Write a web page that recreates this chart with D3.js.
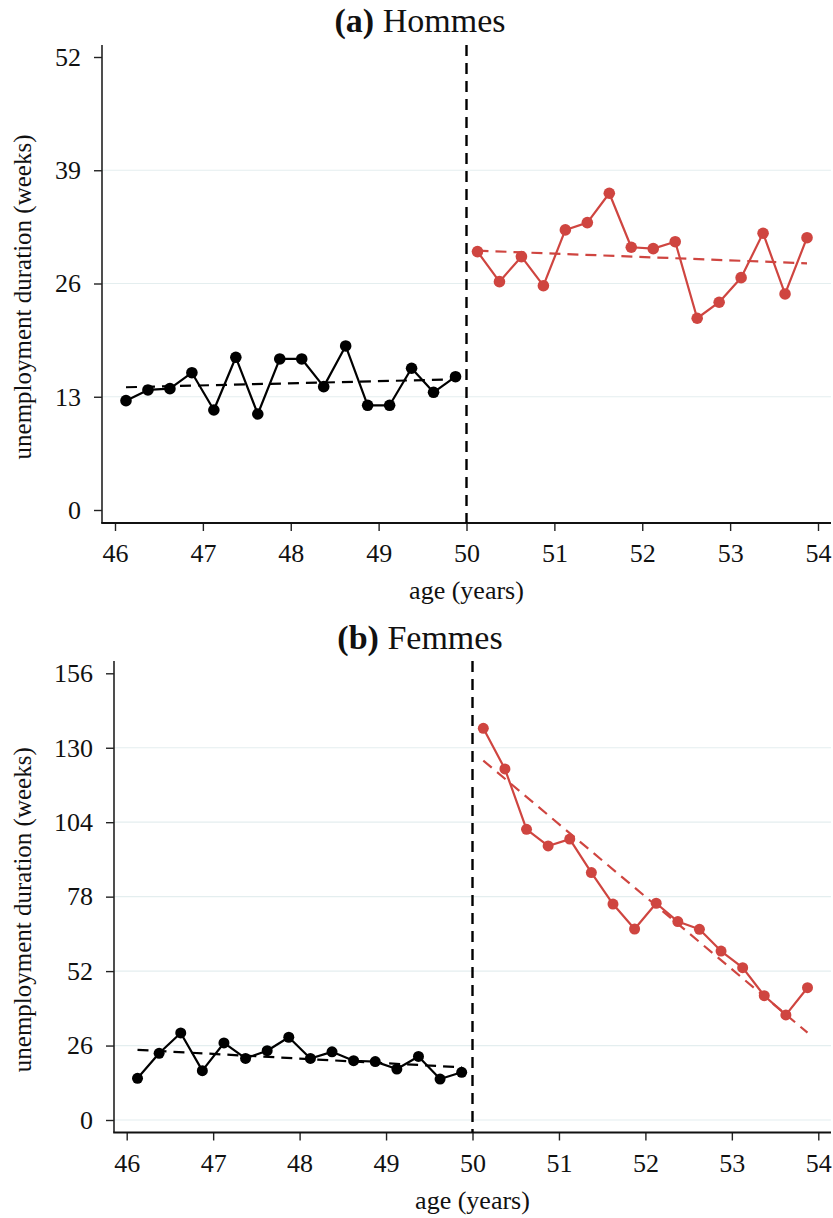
<!DOCTYPE html>
<html>
<head>
<meta charset="utf-8">
<script src="https://cdn.jsdelivr.net/npm/d3@7/dist/d3.min.js"></script>
<style>
  body { margin: 0; background: #ffffff; }
  svg { display: block; }
  text { font-family: "Liberation Serif", "Times New Roman", serif; fill: #111; }
</style>
</head>
<body>
<svg id="chart" width="833" height="1218"></svg>
<script>
// Age bins (quarter-year midpoints) on each side of the age-50 threshold
const ageBelow = [46.125, 46.375, 46.625, 46.875, 47.125, 47.375, 47.625, 47.875,
                  48.125, 48.375, 48.625, 48.875, 49.125, 49.375, 49.625, 49.875];
const ageAbove = [50.125, 50.375, 50.625, 50.875, 51.125, 51.375, 51.625, 51.875,
                  52.125, 52.375, 52.625, 52.875, 53.125, 53.375, 53.625, 53.875];

// Mean unemployment duration (weeks), men
const menBelow = [12.55, 13.78, 13.93, 15.76, 11.48, 17.53, 11.02, 17.34,
                  17.34, 14.16, 18.83, 12.02, 12.02, 16.27, 13.51, 15.30];
const menAbove = [29.66, 26.21, 29.08, 25.75, 32.15, 32.99, 36.36, 30.16,
                  30.00, 30.80, 22.01, 23.85, 26.67, 31.77, 24.80, 31.26];
// Linear fits (value at first and last bin)
const menFitBelow = [14.09, 15.00];
const menFitAbove = [29.77, 28.32];

// Mean unemployment duration (weeks), women
const womenBelow = [14.55, 23.3, 30.4, 17.24, 26.9, 21.5, 24.2, 28.9,
                    21.5, 23.8, 20.7, 20.4, 17.8, 22.2, 14.3, 16.65];
const womenAbove = [136.8, 122.6, 101.5, 95.7, 98.1, 86.4, 75.4, 66.7,
                    75.7, 69.3, 66.6, 59.0, 53.2, 43.4, 36.7, 46.2];
const womenFitBelow = [24.5, 18.4];
const womenFitAbove = [125.5, 30.5];

// Axis ticks
const xTicks = [46, 47, 48, 49, 50, 51, 52, 53, 54];
const menYTicks = [0, 13, 26, 39, 52];
const womenYTicks = [0, 26, 52, 78, 104, 130, 156];
const menGrid = [13, 26, 39];
const womenGrid = [0, 26, 52, 78, 104, 130];

const RED = "#cf4540";
const BLACK = "#000000";
const svg = d3.select("#chart");

function drawPanel(cfg) {
  const g = svg.append("g");
  const x = d3.scaleLinear().domain([46, 54]).range([cfg.x46, cfg.x54]);
  const y = d3.scaleLinear().domain([0, cfg.yMax]).range([cfg.y0, cfg.yTop]);

  // title
  const t = g.append("text")
    .attr("x", 420).attr("y", cfg.titleY)
    .attr("text-anchor", "middle")
    .style("font-size", "34px");
  t.append("tspan").style("font-weight", "bold").text(cfg.tag);
  t.append("tspan").text(" " + cfg.title);

  // horizontal grid
  g.selectAll("line.grid").data(cfg.grid).join("line")
    .attr("class", "grid")
    .attr("x1", cfg.axisX).attr("x2", cfg.axisRight)
    .attr("y1", d => y(d)).attr("y2", d => y(d))
    .attr("stroke", "#e4eeef").attr("stroke-width", 1.2);

  // y axis
  const yAxis = g.append("g")
    .attr("transform", `translate(${cfg.axisX},0)`)
    .call(d3.axisLeft(y).tickValues(cfg.yTicks).tickSize(8).tickPadding(13).tickSizeOuter(0));
  yAxis.select(".domain").remove();
  yAxis.selectAll(".tick line").attr("stroke", "#222").attr("stroke-width", 1.4);
  yAxis.selectAll(".tick text").style("font-size", "26px").attr("fill", "#111");
  g.append("line")
    .attr("x1", cfg.axisX).attr("x2", cfg.axisX)
    .attr("y1", cfg.axisTop).attr("y2", cfg.axisBottom)
    .attr("stroke", "#222").attr("stroke-width", 1.6);

  // x axis
  const xAxis = g.append("g")
    .attr("transform", `translate(0,${cfg.axisBottom})`)
    .call(d3.axisBottom(x).tickValues(xTicks).tickSize(8).tickPadding(13).tickSizeOuter(0));
  xAxis.select(".domain").remove();
  xAxis.selectAll(".tick line").attr("stroke", "#222").attr("stroke-width", 1.4);
  xAxis.selectAll(".tick text").style("font-size", "26px").attr("fill", "#111");
  g.append("line")
    .attr("x1", cfg.axisX - 0.8).attr("x2", cfg.axisRight)
    .attr("y1", cfg.axisBottom).attr("y2", cfg.axisBottom)
    .attr("stroke", "#111").attr("stroke-width", 2);

  // axis titles
  g.append("text")
    .attr("x", (cfg.axisX + cfg.axisRight) / 2).attr("y", cfg.axisBottom + 76)
    .attr("text-anchor", "middle")
    .style("font-size", "26px")
    .text("age (years)");
  g.append("text")
    .attr("transform", `translate(31,${(cfg.axisTop + cfg.axisBottom) / 2 + 13}) rotate(-90)`)
    .attr("text-anchor", "middle")
    .style("font-size", "25px")
    .text("unemployment duration (weeks)");

  // threshold at 50
  g.append("line")
    .attr("x1", x(50)).attr("x2", x(50))
    .attr("y1", cfg.axisTop).attr("y2", cfg.axisBottom)
    .attr("stroke", BLACK).attr("stroke-width", 2.4)
    .attr("stroke-dasharray", "11,7");

  const line = d3.line().x(d => x(d[0])).y(d => y(d[1]));

  function series(ages, vals, fit, color) {
    // linear fit
    g.append("path")
      .datum([[ages[0], fit[0]], [ages[ages.length - 1], fit[1]]])
      .attr("d", line)
      .attr("fill", "none").attr("stroke", color)
      .attr("stroke-width", 2.2).attr("stroke-dasharray", "11,7");
    const pts = ages.map((a, i) => [a, vals[i]]);
    g.append("path")
      .datum(pts)
      .attr("d", line)
      .attr("fill", "none").attr("stroke", color)
      .attr("stroke-width", 2.2).attr("stroke-linejoin", "round");
    g.selectAll(null).data(pts).join("circle")
      .attr("cx", d => x(d[0])).attr("cy", d => y(d[1]))
      .attr("r", cfg.r).attr("fill", color);
  }

  series(ageBelow, cfg.below, cfg.fitBelow, BLACK);
  series(ageAbove, cfg.above, cfg.fitAbove, RED);
}

drawPanel({
  tag: "(a)", title: "Hommes", titleY: 32,
  x46: 115, x54: 818, axisX: 102, axisRight: 831,
  yMax: 52, y0: 510, yTop: 57, axisTop: 45, axisBottom: 523,
  yTicks: menYTicks, grid: menGrid,
  below: menBelow, above: menAbove, fitBelow: menFitBelow, fitAbove: menFitAbove,
  r: 5.8
});

drawPanel({
  tag: "(b)", title: "Femmes", titleY: 649,
  x46: 126.7, x54: 818.3, axisX: 114, axisRight: 831,
  yMax: 156, y0: 1120, yTop: 673.3, axisTop: 661, axisBottom: 1132.5,
  yTicks: womenYTicks, grid: womenGrid,
  below: womenBelow, above: womenAbove, fitBelow: womenFitBelow, fitAbove: womenFitAbove,
  r: 5.5
});
</script>
</body>
</html>
